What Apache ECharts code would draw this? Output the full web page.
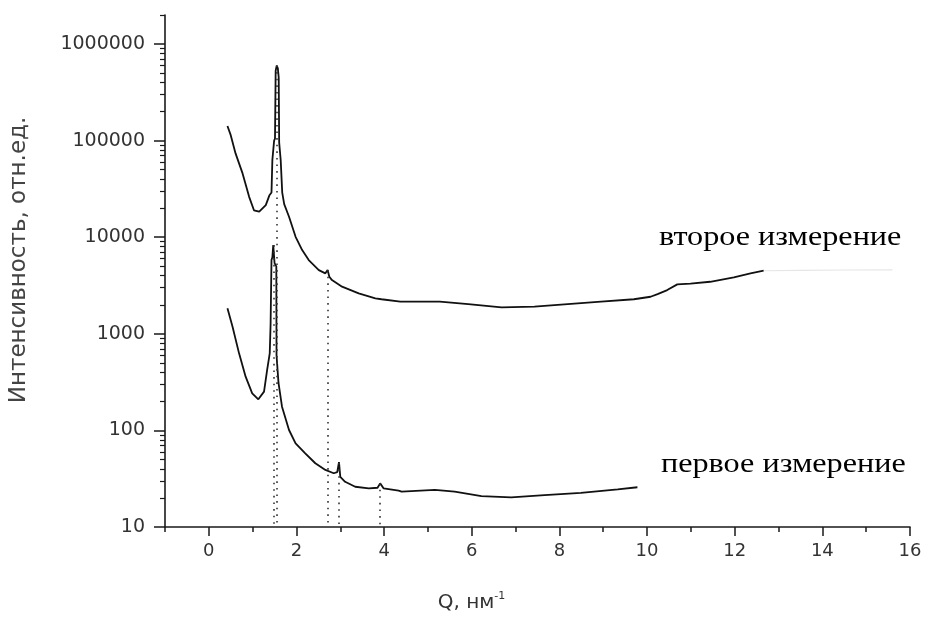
<!DOCTYPE html>
<html>
<head>
<meta charset="utf-8">
<script src="https://cdn.jsdelivr.net/npm/echarts@6/dist/echarts.min.js"></script>
<style>html,body{margin:0;padding:0;background:#fff;}#c{width:928px;height:626px;}</style>
</head>
<body>
<div id="c"></div>
<script>
// второе измерение (upper curve)
const qUpper = [0.425,0.50,0.61,0.77,0.92,1.03,1.15,1.30,1.38,1.43,1.45,1.48,1.49,1.51,1.525,1.55,1.575,1.595,1.605,1.62,1.64,1.675,1.72,1.83,1.98,2.13,2.28,2.51,2.66,2.71,2.75,2.81,3.04,3.42,3.80,3.94,4.37,4.70,5.27,5.92,6.68,7.43,8.19,8.95,9.70,10.08,10.24,10.46,10.69,10.99,11.44,11.98,12.36,12.66];
const iUpper = [142000,114000,73800,45800,26200,19000,18400,21500,27000,29000,63000,66000,100000,105000,530000,600000,560000,450000,96000,80000,63000,29000,22000,16300,10100,7360,5800,4570,4230,4570,3900,3600,3080,2620,2330,2280,2150,2150,2150,2030,1880,1910,2030,2150,2280,2420,2580,2840,3250,3310,3460,3850,4230,4500];
// faint continuation of the upper curve
const qUpperFaint = [12.66,13.5,14.5,15.6];
const iUpperFaint = [4500,4550,4580,4600];
// первое измерение (lower curve)
const qLower = [0.425,0.54,0.69,0.84,0.99,1.13,1.26,1.33,1.39,1.41,1.43,1.45,1.47,1.50,1.54,1.545,1.59,1.67,1.83,1.98,2.20,2.43,2.66,2.85,2.93,2.97,3.00,3.11,3.34,3.65,3.85,3.91,3.99,4.33,4.40,5.16,5.61,6.22,6.90,7.66,8.49,9.33,9.78];
const iLower = [1840,1190,628,360,242,210,252,422,628,1280,5800,6200,8300,5400,5000,600,310,176,101,73.5,58,45.7,39,36,37,47,33,29.4,26.1,25.1,25.5,28.3,25.1,23.8,23.2,24.2,23.2,20.9,20.3,21.4,22.6,24.5,25.8];
// dotted drop lines (peak positions)
const dropQ = [1.49, 1.56, 2.72, 2.96, 3.90];
const dropTop = [8300, 600000, 4570, 46, 28.5];
// tick values
const xMajor = [0,2,4,6,8,10,12,14,16];
const xMinor = [-1,1,3,5,7,9,11,13,15];
const yMajor = [10,100,1000,10000,100000,1000000];
const yMinor = [];
[10,100,1000,10000,100000].forEach(d => { for (let k = 2; k <= 9; k++) yMinor.push(d*k); });
yMinor.push(2000000);
const labelUpper = 'второе измерение';
const labelLower = 'первое измерение';

const pairs = (q, v) => q.map((x, i) => [x, v[i]]);
const sansFont = 'DejaVu Sans';
const axisCol = '#1a1a1a';

const chart = echarts.init(document.getElementById('c'), null, {renderer: 'canvas'});
const yBase = {
  type: 'log', logBase: 10, min: 10, max: 2000000,
  gridIndex: 0, position: 'left', splitLine: {show: false}, minorTick: {show: false}
};
const xBase = {
  type: 'value', min: -1, max: 16, gridIndex: 0, position: 'bottom', splitLine: {show: false}
};
chart.setOption({
  animation: false,
  backgroundColor: '#fff',
  grid: {left: 162, right: 18, top: 15, bottom: 99, containLabel: false},
  xAxis: [
    Object.assign({}, xBase, {
      name: '{a|Q, нм}{b|-1}', nameLocation: 'middle', nameGap: 64,
      nameTextStyle: {rich: {a: {fontFamily: sansFont, fontSize: 20, color: '#333', lineHeight: 24},
                              b: {fontFamily: sansFont, fontSize: 11, color: '#333', lineHeight: 24, verticalAlign: 'top', padding: [0,0,12,0]}},
                      padding: [0, 132, 0, 0]},
      axisLine: {onZero: false, lineStyle: {color: axisCol, width: 1.6}},
      axisTick: {show: true, inside: false, length: 9, customValues: xMajor, lineStyle: {color: axisCol, width: 1.5}},
      axisLabel: {customValues: xMajor, margin: 15, fontFamily: sansFont, fontSize: 18, color: '#333'}
    }),
    Object.assign({}, xBase, {
      axisLine: {show: false, onZero: false},
      axisTick: {show: true, inside: false, length: 5, customValues: xMinor, lineStyle: {color: axisCol, width: 1.5}},
      axisLabel: {show: false}
    })
  ],
  yAxis: [
    Object.assign({}, yBase, {
      name: 'Интенсивность, отн.ед.', nameLocation: 'middle', nameGap: 134,
      nameTextStyle: {fontFamily: sansFont, fontSize: 23, color: '#444', padding: [0, 0, 0, 22]},
      axisLine: {onZero: false, lineStyle: {color: axisCol, width: 1.6}},
      axisTick: {show: true, inside: false, length: 11, customValues: yMajor, lineStyle: {color: axisCol, width: 1.5}},
      axisLabel: {customValues: yMajor, margin: 20, fontFamily: sansFont, fontSize: 19, color: '#333',
                  formatter: v => String(Math.round(v))}
    }),
    Object.assign({}, yBase, {
      axisLine: {show: false, onZero: false},
      axisTick: {show: true, inside: false, length: 5, customValues: yMinor, lineStyle: {color: axisCol, width: 1.2}},
      axisLabel: {show: false}
    })
  ],
  series: [
    {
      type: 'line', name: labelUpper, xAxisIndex: 0, yAxisIndex: 0,
      data: pairs(qUpper, iUpper), showSymbol: false, symbol: 'none',
      lineStyle: {color: '#111', width: 1.8}, z: 3,
      markLine: {
        silent: true, symbol: ['none', 'none'], label: {show: false},
        lineStyle: {color: '#333', width: 1.6, type: [1.6, 5]},
        data: dropQ.map((q, i) => [{coord: [q, dropTop[i]]}, {coord: [q, 10]}])
      }
    },
    {
      type: 'line', name: 'faint', xAxisIndex: 0, yAxisIndex: 0,
      data: pairs(qUpperFaint, iUpperFaint), showSymbol: false, symbol: 'none',
      lineStyle: {color: '#e6e6e6', width: 1.2}, z: 2
    },
    {
      type: 'line', name: labelLower, xAxisIndex: 0, yAxisIndex: 0,
      data: pairs(qLower, iLower), showSymbol: false, symbol: 'none',
      lineStyle: {color: '#111', width: 1.8}, z: 3
    }
  ],
  graphic: [
    {type: 'text', left: 659, top: 224, scaleX: 1.15,
     style: {text: labelUpper, font: '28px "Liberation Serif"', fill: '#000'}},
    {type: 'text', left: 661, top: 451, scaleX: 1.15,
     style: {text: labelLower, font: '28px "Liberation Serif"', fill: '#000'}}
  ]
});
</script>
</body>
</html>
